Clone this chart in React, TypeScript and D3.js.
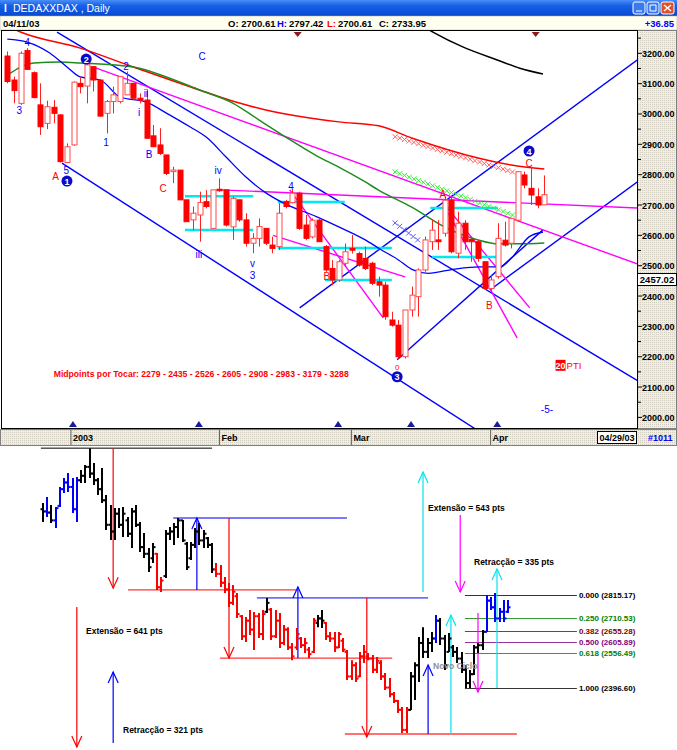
import * as React from 'react';
import * as d3 from 'd3';

// ---------- top panel: DAX daily candles (open, high, low, close) ----------
const candles: [number, number, number, number][] = [
  [3191, 3206, 3101, 3107], [3112, 3123, 3035, 3077], [3035, 3206, 3030, 3200], [3209, 3217, 3145, 3147],
  [3136, 3140, 3052, 3054], [3030, 3101, 2931, 2958], [2969, 3044, 2950, 3024], [3022, 3046, 2970, 3002],
  [2997, 2999, 2840, 2843], [2840, 2903, 2838, 2892], [2898, 3107, 2895, 3105], [3101, 3123, 3068, 3090],
  [3092, 3184, 3035, 3162], [3156, 3158, 3074, 3112], [3112, 3114, 2991, 2993], [3002, 3046, 2936, 3041],
  [3041, 3090, 3002, 3063], [3041, 3123, 3035, 3123], [3063, 3140, 3063, 3101], [3101, 3101, 3046, 3052],
  [3052, 3068, 3035, 3046], [3046, 3079, 2920, 2920], [2928, 2964, 2892, 2892], [2898, 2953, 2865, 2870],
  [2865, 2865, 2799, 2804], [2810, 2826, 2772, 2815], [2815, 2815, 2717, 2717], [2717, 2717, 2645, 2645],
  [2651, 2695, 2618, 2673], [2667, 2744, 2579, 2708], [2711, 2749, 2689, 2695], [2623, 2750, 2623, 2750],
  [2752, 2788, 2744, 2747], [2750, 2750, 2629, 2634], [2628, 2728, 2585, 2722], [2717, 2717, 2645, 2651],
  [2651, 2673, 2563, 2574], [2574, 2607, 2541, 2590], [2590, 2656, 2563, 2629], [2623, 2623, 2568, 2574],
  [2568, 2596, 2541, 2557], [2563, 2706, 2552, 2673], [2711, 2717, 2689, 2695], [2708, 2750, 2706, 2739],
  [2739, 2744, 2618, 2623], [2634, 2667, 2584, 2590], [2595, 2656, 2590, 2650], [2650, 2656, 2579, 2579],
  [2563, 2568, 2480, 2486], [2491, 2519, 2436, 2453], [2453, 2519, 2447, 2513], [2508, 2573, 2497, 2546],
  [2557, 2601, 2540, 2551], [2540, 2546, 2497, 2502], [2524, 2563, 2486, 2491], [2508, 2513, 2436, 2442],
  [2447, 2464, 2398, 2436], [2436, 2447, 2322, 2332], [2321, 2348, 2299, 2304], [2304, 2321, 2194, 2200],
  [2200, 2354, 2194, 2354], [2354, 2431, 2332, 2403], [2398, 2491, 2332, 2486], [2486, 2596, 2480, 2585],
  [2579, 2650, 2552, 2617], [2585, 2650, 2552, 2579], [2607, 2727, 2596, 2716], [2716, 2727, 2541, 2546],
  [2541, 2678, 2524, 2640], [2640, 2650, 2552, 2579], [2587, 2596, 2513, 2579], [2579, 2585, 2513, 2524],
  [2513, 2513, 2420, 2425], [2425, 2469, 2410, 2453], [2464, 2640, 2458, 2590], [2584, 2645, 2563, 2568],
  [2574, 2656, 2557, 2656], [2650, 2810, 2645, 2810], [2799, 2810, 2755, 2766], [2755, 2826, 2700, 2733],
  [2727, 2755, 2689, 2700], [2700.61, 2797.42, 2700.61, 2733.95],
];

// moving averages read as [candle index, value]
const maRed: [number, number][] = [[0, 3290], [2, 3270], [11, 3217], [19, 3155], [29, 3079], [35, 3036], [39, 3013], [50, 2974], [56, 2961], [61, 2921], [71, 2855], [76, 2832], [81, 2819]];
const maGreen: [number, number][] = [[0, 3128], [4, 3168], [8, 3171], [11, 3168], [19, 3155], [24, 3122], [29, 3079], [34, 3036], [38, 2980], [42, 2924], [47, 2858], [50, 2825], [54, 2776], [56, 2749], [61, 2693], [66, 2627], [71, 2585], [74, 2572], [77, 2572], [81, 2575]];
const maBlue: [number, number][] = [[0, 3247], [3, 3237], [6.4, 3201], [9, 3155], [11, 3122], [14, 3112], [17, 3056], [21, 3039], [24, 3003], [27.6, 2957], [30, 2924], [33, 2858], [36, 2792], [39, 2740], [41.6, 2707], [46.7, 2661], [50, 2628], [54, 2585], [56.2, 2555], [59, 2519], [61.2, 2486], [63.5, 2475], [67.5, 2489], [71.3, 2496], [74.3, 2496], [76.2, 2529], [78.7, 2595], [80.8, 2611]];
const maBlack: [number, number][] = [[63, 3285], [64.2, 3270], [68.7, 3221], [73.9, 3178], [77.3, 3151], [80.8, 3132]];

// trend lines [i1, v1, i2, v2]
const blueLines: [number, number, number, number][] = [
  [7.5, 3270, 95, 2122], [8.25, 2838, 75, 1900], [44.1, 2361, 95, 3178], [58.8, 2190, 80.8, 2618], [72.8, 2420, 95, 2776],
];
const magentaLines: [number, number, number, number][] = [
  [12.9, 3155, 95, 2506], [32.1, 2750, 95, 2690], [42.6, 2750, 56.7, 2328], [40.1, 2600, 60, 2463], [66, 2700, 78.8, 2361], [66.5, 2674, 76.9, 2262],
];
// cyan boxes [i1, i2, value]
const cyanLines: [number, number, number][] = [
  [26.8, 37.1, 2729], [26.8, 37.1, 2618], [40.8, 50.9, 2710], [40.8, 58, 2558], [47.9, 58, 2453], [63.8, 74, 2690], [64.1, 74, 2529],
];
// crossed projections [i1, v1, i2, v2, count]
const crossLines: [number, number, number, number, number, string][] = [
  [58.5, 2925, 76.2, 2809, 26, '#ff6060'], [58.5, 2809, 76.2, 2667, 26, '#33ee33'], [58.5, 2641, 61.9, 2585, 6, '#5a5aff'],
];

const topTicks = [2000, 2100, 2200, 2300, 2400, 2500, 2600, 2700, 2800, 2900, 3000, 3100, 3200];
const monthNames = ['2003', 'Feb', 'Mar', 'Apr'];
const monthIdx = [9.6, 32.0, 51.9, 72.9];
const upMarks = [9.9, 28.9, 49.9, 60.9, 73.9];
const downMarks = [43.8, 79.7];

// labels [text, index, value, colour, circled]
const waveLabels: [string, number, number, string, boolean][] = [
  ['3', 1.8, 3010, '#0000ff', false], ['4', 3, 3234, '#0000ff', false], ['2', 11.9, 3181, '#0000ff', true],
  ['2', 17.9, 3158, '#0000ff', false], ['ii', 20.9, 3069, '#0000ff', false], ['i', 19.9, 3006, '#0000ff', false],
  ['1', 14.9, 2907, '#0000ff', false], ['B', 21.4, 2865, '#0000ff', false], ['C', 23.5, 2756, '#ff0000', false],
  ['A', 7.3, 2795, '#ff0000', false], ['5', 8.9, 2815, '#0000ff', false], ['1', 9, 2779, '#0000ff', true],
  ['C', 29.4, 3188, '#0000ff', false], ['iv', 31.8, 2815, '#0000ff', false], ['iii', 28.9, 2538, '#0000ff', false],
  ['v', 37, 2507, '#0000ff', false], ['3', 37, 2467, '#0000ff', false], ['4', 42.8, 2762, '#0000ff', false],
  ['B', 48.2, 2463, '#ff0000', false], ['A', 65.7, 2733, '#ff0000', false], ['B', 72.7, 2370, '#ff0000', false],
  ['0', 58.8, 2168, '#ff0000', false], ['3', 58.8, 2134, '#0000ff', true], ['4', 78.7, 2878, '#0000ff', true],
  ['C', 78.7, 2838, '#ff0000', false], ['-5-', 81.4, 2025, '#0000ff', false],
];
const midpoints = [2279, 2435, 2526, 2605, 2908, 2983, 3179, 3288];

// ---------- bottom panel: daily bars (open, high, low, close) + colour ----------
const bars: [number, number, number, number][] = [
  [3200, 3228, 3143, 3190], [3190, 3255, 3165, 3185], [3185, 3219, 3138, 3150], [3150, 3210, 3116, 3205],
  [3215, 3300, 3210, 3290], [3290, 3340, 3273, 3320], [3320, 3362, 3277, 3300], [3300, 3340, 3183, 3200],
  [3200, 3345, 3143, 3330], [3330, 3376, 3318, 3350], [3350, 3398, 3318, 3390], [3390, 3474, 3340, 3360],
  [3360, 3407, 3309, 3330], [3330, 3340, 3264, 3290], [3290, 3385, 3228, 3240], [3240, 3264, 3107, 3130],
  [3130, 3219, 3062, 3100], [3100, 3205, 3062, 3180], [3180, 3205, 3116, 3130], [3130, 3210, 3075, 3180],
  [3150, 3165, 3075, 3090], [3090, 3205, 3026, 3190], [3190, 3219, 3120, 3130], [3130, 3143, 3008, 3030],
  [3030, 3093, 2981, 3000], [3000, 3026, 2918, 2940], [2980, 3048, 2959, 3030], [3000, 3004, 2838, 2850],
  [2850, 2896, 2829, 2880], [2900, 3107, 2891, 3090], [3090, 3120, 3062, 3100], [3100, 3138, 3039, 3120],
  [3120, 3161, 3071, 3150], [3150, 3152, 3053, 3060], [3045, 3053, 2927, 2940], [2980, 3053, 2972, 3040],
  [3040, 3116, 3026, 3100], [3100, 3138, 3039, 3060], [3060, 3107, 3026, 3090], [3070, 3075, 3026, 3040],
  [3040, 3048, 2914, 2930], [2930, 2959, 2896, 2910], [2910, 2950, 2851, 2870], [2870, 2896, 2824, 2840],
  [2840, 2869, 2761, 2780], [2780, 2860, 2770, 2830], [2810, 2824, 2712, 2730], [2720, 2725, 2613, 2630],
  [2630, 2716, 2604, 2700], [2700, 2748, 2636, 2660], [2660, 2739, 2568, 2720], [2720, 2734, 2622, 2640],
  [2640, 2748, 2613, 2730], [2740, 2802, 2734, 2780], [2750, 2757, 2613, 2630], [2630, 2748, 2622, 2700],
  [2700, 2734, 2577, 2600], [2600, 2681, 2590, 2660], [2660, 2671, 2568, 2580], [2580, 2600, 2523, 2540],
  [2580, 2667, 2568, 2640], [2620, 2627, 2577, 2590], [2590, 2622, 2555, 2600], [2570, 2582, 2533, 2550],
  [2560, 2712, 2555, 2700], [2690, 2725, 2671, 2710], [2710, 2748, 2667, 2700], [2690, 2694, 2613, 2630],
  [2630, 2649, 2604, 2620], [2620, 2649, 2559, 2580], [2580, 2649, 2577, 2640], [2610, 2622, 2559, 2570],
  [2560, 2568, 2434, 2450], [2450, 2523, 2434, 2500], [2500, 2514, 2425, 2440], [2450, 2559, 2447, 2540],
  [2540, 2591, 2510, 2560], [2540, 2555, 2523, 2530], [2530, 2546, 2465, 2480], [2480, 2537, 2465, 2520],
  [2510, 2523, 2434, 2450], [2450, 2465, 2389, 2400], [2400, 2443, 2357, 2370], [2370, 2380, 2331, 2340],
  [2340, 2344, 2286, 2300], [2300, 2313, 2196, 2210], [2210, 2313, 2196, 2300], [2300, 2470, 2299, 2450],
  [2450, 2514, 2344, 2500], [2500, 2627, 2425, 2600], [2600, 2671, 2533, 2560], [2560, 2622, 2533, 2600],
  [2600, 2649, 2559, 2620], [2620, 2725, 2600, 2700], [2700, 2712, 2591, 2620], [2620, 2636, 2479, 2500],
  [2560, 2645, 2559, 2620], [2580, 2591, 2537, 2560], [2560, 2582, 2510, 2530], [2530, 2559, 2465, 2480],
  [2480, 2501, 2398, 2420], [2420, 2479, 2398, 2460], [2460, 2591, 2456, 2580], [2580, 2600, 2555, 2590],
  [2590, 2658, 2568, 2650], [2650, 2815, 2649, 2790], [2790, 2806, 2748, 2760], [2760, 2824, 2694, 2710],
  [2710, 2757, 2694, 2740], [2740, 2793, 2694, 2710], [2740, 2793, 2734, 2760],
];
const barColors = 'kbkbbbbbbkkkkkkkkkkkkkkkkkkrrkkkkkkkkkkkkrrrrrrrrrrrrkrrrrrrrrrrrkkrrrrrrrrrrrrrrrrrrrrkkkkkkbkkkkkkkkkkkbbbbbb';
const colorOf: Record<string, string> = { k: '#000000', b: '#0000ff', r: '#ff0000' };

const fibLevels = [0, 0.25, 0.382, 0.5, 0.618, 1];
const fibValues = [2815.17, 2710.53, 2655.28, 2605.89, 2556.49, 2396.6];
const fibColors = ['#000000', '#008000', '#800000', '#800080', '#008000', '#000000'];

// hand drawn lines on the lower chart [i1, i2, value, colour, width]
const hLines: [number, number, number, string, number][] = [
  [-0.5, 40, 3474, '#000000', 1], [20.1, 59.9, 2838, '#ff0000', 1], [30.8, 71.9, 3161, '#7a7aff', 2],
  [41.9, 82.6, 2532, '#ff0000', 1], [50.6, 91.1, 2802, '#0000ff', 1], [71.4, 112.1, 2192, '#ff7070', 2],
];
// arrows [index, from value, to value, colour]
const arrows: [number, number, number, string][] = [
  [16.6, 3474, 2846, '#ff0000'], [36.4, 2838, 3161, '#0000ff'], [44, 3161, 2532, '#ff0000'],
  [60.3, 2532, 2851, '#0000ff'], [76.6, 2802, 2178, '#ff0000'], [91.1, 2192, 2501, '#0000ff'],
  [96.5, 2192, 2725, '#00e5ee'], [89.9, 2829, 3367, '#00e5ee'], [98.7, 3174, 2829, '#ff00ff'],
  [102.9, 2734, 2380, '#ff00ff'], [107.4, 2398, 2932, '#00e5ee'], [8, 2761, 2133, '#ff0000'],
  [16.6, 2151, 2470, '#0000ff'],
];

const FONT = 'Liberation Sans, Arial, sans-serif';

const App: React.FC = () => {
  const xTop = d3.scaleLinear().domain([0, 81]).range([7.3, 544.3]);
  const yTop = d3.scaleLinear().domain([2000, 3200]).range([417.4, 53.3]);
  const xBot = d3.scaleLinear().domain([0, 110]).range([43, 508]);
  const yBot = d3.scaleLinear().domain([2396.6, 2815.17]).range([688.3, 595]);

  const maLine = d3.line<[number, number]>().x(d => xTop(d[0])).y(d => yTop(d[1])).curve(d3.curveMonotoneX);

  const arrowHead = (x: number, y: number, down: boolean) =>
    `M${x - 5},${down ? y - 11 : y + 11}L${x},${y}L${x + 5},${down ? y - 11 : y + 11}`;

  return (
    <svg width={677} height={750} style={{ position: 'absolute', left: 0, top: 0 }} fontFamily={FONT}>
      <defs>
        <linearGradient id="titleGrad" x1="0" y1="0" x2="0" y2="1">
          <stop offset="0" stopColor="#4a8ef8" />
          <stop offset="0.35" stopColor="#1660e8" />
          <stop offset="1" stopColor="#0a48d0" />
        </linearGradient>
        <pattern id="dots" width="2" height="2" patternUnits="userSpaceOnUse">
          <rect width="2" height="2" fill="#efede5" />
          <rect width="1" height="1" fill="#d2cec2" />
        </pattern>
        <clipPath id="plotClip"><rect x={2} y={31} width={635} height={397} /></clipPath>
      </defs>

      {/* window title and info bar */}
      <rect x={0} y={0} width={677} height={16} fill="url(#titleGrad)" />
      <text x={4} y={12} fill="#fff" fontSize={10} fontWeight="bold">I</text>
      <text x={13} y={12} fill="#fff" fontSize={10.5}>DEDAXXDAX , Daily</text>
      <rect x={633} y={2} width={12} height={12} rx={2} fill="#3a7af0" stroke="#fff" />
      <rect x={647} y={2} width={12} height={12} rx={2} fill="#3a7af0" stroke="#fff" />
      <rect x={661} y={2} width={13} height={12} rx={2} fill="#e0502a" stroke="#fff" />
      <path d="M636,11h6M650,5h6v6h-6z" stroke="#fff" fill="none" />
      <path d="M664,5l7,6M671,5l-7,6" stroke="#fff" strokeWidth={1.5} />
      <rect x={0} y={16} width={677} height={14} fill="#fffff0" stroke="#a0a0a0" strokeWidth={0.5} />
      <g fontSize={9.5} fontWeight="bold">
        <text x={3} y={27}>04/11/03</text>
        <text x={228} y={27}>O: 2700.61</text>
        <text x={277} y={27} fill="#0000ff">H:</text>
        <text x={289} y={27}>2797.42</text>
        <text x={327} y={27} fill="#ff0000">L:</text>
        <text x={338} y={27}>2700.61</text>
        <text x={379} y={27}>C: 2733.95</text>
        <text x={674} y={27} fill="#0000ff" textAnchor="end">+36.85</text>
      </g>

      {/* plot frame */}
      <rect x={1.5} y={30.5} width={636} height={398} fill="#fff" stroke="#000" />
      <rect x={637.5} y={30.5} width={39} height={398} fill="url(#dots)" stroke="#808080" />
      <line x1={637.5} x2={637.5} y1={30} y2={429} stroke="#000" />

      {/* right axis */}
      <g fontSize={9} fontWeight="bold">
        {topTicks.map(t => (
          <g key={t}>
            <line x1={638} x2={642} y1={yTop(t)} y2={yTop(t)} stroke="#000" />
            <text x={642} y={yTop(t) + 3.5}>{t.toFixed(2)}</text>
            <line x1={638} x2={641} y1={yTop(t + 50)} y2={yTop(t + 50)} stroke="#000" />
          </g>
        ))}
      </g>
      <rect x={637.5} y={273.5} width={39} height={12} fill="#fff" stroke="#000" />
      <text x={657} y={283} fontSize={9.5} fontWeight="bold" textAnchor="middle">2457.02</text>

      <g clipPath="url(#plotClip)">
        {/* trend lines */}
        {blueLines.map((l, i) => (
          <line key={'b' + i} x1={xTop(l[0])} y1={yTop(l[1])} x2={xTop(l[2])} y2={yTop(l[3])} stroke="#0000ff" strokeWidth={1.4} />
        ))}
        {magentaLines.map((l, i) => (
          <line key={'m' + i} x1={xTop(l[0])} y1={yTop(l[1])} x2={xTop(l[2])} y2={yTop(l[3])} stroke="#ff00ff" strokeWidth={1.4} />
        ))}
        {cyanLines.map((l, i) => (
          <line key={'c' + i} x1={xTop(l[0])} x2={xTop(l[1])} y1={yTop(l[2])} y2={yTop(l[2])} stroke="#00e8f0" strokeWidth={2.5} />
        ))}
        {crossLines.map((l, i) =>
          d3.range(l[4]).map(k => {
            const t = k / (l[4] - 1);
            const cx = xTop(l[0] + (l[2] - l[0]) * t);
            const cy = yTop(l[1] + (l[3] - l[1]) * t);
            return <path key={`x${i}-${k}`} d={`M${cx - 2.5},${cy - 2.5}L${cx + 2.5},${cy + 2.5}M${cx - 2.5},${cy + 2.5}L${cx + 2.5},${cy - 2.5}`} stroke={l[5]} strokeWidth={1} />;
          })
        )}

        {/* moving averages */}
        <path d={maLine(maBlack) ?? ''} fill="none" stroke="#000" strokeWidth={1.5} />
        <path d={maLine(maRed) ?? ''} fill="none" stroke="#ff0000" strokeWidth={1.5} />
        <path d={maLine(maGreen) ?? ''} fill="none" stroke="#1e8c1e" strokeWidth={1.5} />
        <path d={maLine(maBlue) ?? ''} fill="none" stroke="#0000ff" strokeWidth={1.3} />

        {/* candles */}
        {candles.map((c, i) => {
          const [o, h, l, cl] = c;
          const x = Math.round(xTop(i)) + 0.5;
          const up = cl >= o;
          const top = yTop(Math.max(o, cl));
          const bot = yTop(Math.min(o, cl));
          return (
            <g key={'k' + i}>
              <line x1={x} x2={x} y1={yTop(h)} y2={yTop(l)} stroke="#ff2020" />
              <rect x={x - 2.5} y={top} width={5} height={Math.max(1, bot - top)} fill={up ? '#fff' : '#ff0000'} stroke={up ? '#ff4a4a' : '#ff0000'} />
            </g>
          );
        })}

        {/* markers */}
        {downMarks.map(m => <path key={'d' + m} d={`M${xTop(m) - 4},32L${xTop(m) + 4},32L${xTop(m)},37Z`} fill="#8b1a1a" />)}
        {upMarks.map(m => <path key={'u' + m} d={`M${xTop(m) - 4},427L${xTop(m) + 4},427L${xTop(m)},421Z`} fill="#1a1a9b" />)}

        {/* wave labels */}
        {waveLabels.map((w, i) =>
          w[4] ? (
            <g key={'w' + i}>
              <circle cx={xTop(w[1])} cy={yTop(w[2])} r={5.5} fill="#0a0ac8" />
              <text x={xTop(w[1])} y={yTop(w[2]) + 3.5} fill="#fff" fontSize={9} fontWeight="bold" textAnchor="middle">{w[0]}</text>
            </g>
          ) : (
            <text key={'w' + i} x={xTop(w[1])} y={yTop(w[2]) + 3.5} fill={w[3]} fontSize={w[0] === '0' ? 8 : 10} textAnchor="middle">{w[0]}</text>
          )
        )}
        <text x={xTop(7)} y={yTop(2133)} fill="#ff0000" fontSize={9} fontWeight="bold" textLength={295} lengthAdjust="spacingAndGlyphs">
          {'Midpoints por Tocar: ' + midpoints.join('  -  ')}
        </text>
        <rect x={xTop(82.7)} y={yTop(2170) - 6} width={10} height={11} fill="#ff0000" />
        <text x={xTop(82.7) + 5} y={yTop(2170) + 3.5} fill="#fff" fontSize={9} fontWeight="bold" textAnchor="middle">20</text>
        <text x={xTop(82.7) + 11} y={yTop(2170) + 3.5} fill="#ff0000" fontSize={9.5}>PTI</text>
      </g>

      {/* date strip */}
      <rect x={0.5} y={429.5} width={676} height={16} fill="url(#dots)" stroke="#808080" />
      <g fontSize={9} fontWeight="bold">
        {monthNames.map((m, i) => (
          <g key={m}>
            <line x1={xTop(monthIdx[i])} x2={xTop(monthIdx[i])} y1={430} y2={445} stroke="#606060" />
            <text x={xTop(monthIdx[i]) + 2} y={441}>{m}</text>
          </g>
        ))}
        <rect x={597.5} y={431.5} width={39} height={12} fill="#fff" stroke="#000" />
        <text x={617} y={441} textAnchor="middle">04/29/03</text>
        <text x={648} y={441} fill="#0000ff">#1011</text>
      </g>

      {/* ---------------- lower chart ---------------- */}
      {hLines.map((l, i) => (
        <line key={'h' + i} x1={xBot(l[0])} x2={xBot(l[1])} y1={yBot(l[2])} y2={yBot(l[2])} stroke={l[3]} strokeWidth={l[4]} />
      ))}
      {fibLevels.map((f, i) => (
        <g key={'f' + i}>
          <line x1={xBot(99.8)} x2={xBot(126.3)} y1={Math.round(yBot(fibValues[i])) + 0.5} y2={Math.round(yBot(fibValues[i])) + 0.5} stroke={fibColors[i]} strokeWidth={0.8} />
          <text x={xBot(126.3) + 2} y={yBot(fibValues[i]) + 3} fontSize={8} fontWeight="bold" fill={fibColors[i]}>
            {`${f.toFixed(3)} (${fibValues[i].toFixed(2)})`}
          </text>
        </g>
      ))}
      {arrows.map((a, i) => {
        const x = xBot(a[0]);
        const down = a[2] < a[1];
        return (
          <g key={'a' + i} stroke={a[3]} fill="none" strokeWidth={1.2}>
            <line x1={x} x2={x} y1={yBot(a[1])} y2={yBot(a[2])} />
            <path d={arrowHead(x, yBot(a[2]), down)} />
          </g>
        );
      })}

      {bars.map((b, i) => {
        const [o, h, l, c] = b;
        const x = Math.round(xBot(i));
        const col = colorOf[barColors[i]] ?? '#000';
        return (
          <g key={'bar' + i} stroke={col} strokeWidth={2}>
            <line x1={x} x2={x} y1={yBot(h)} y2={yBot(l)} />
            <line x1={x - 2.5} x2={x} y1={yBot(o)} y2={yBot(o)} />
            <line x1={x} x2={x + 2.5} y1={yBot(c)} y2={yBot(c)} />
          </g>
        );
      })}

      <g fontSize={8.5} fontWeight="bold">
        <text x={86} y={634}>Extensão = 641 pts</text>
        <text x={123} y={733}>Retracção = 321 pts</text>
        <text x={428} y={511}>Extensão = 543 pts</text>
        <text x={474} y={565}>Retracção = 335 pts</text>
        <text x={433} y={669} fill="#909090">Novo Ciclo</text>
      </g>
    </svg>
  );
};

export default App;
